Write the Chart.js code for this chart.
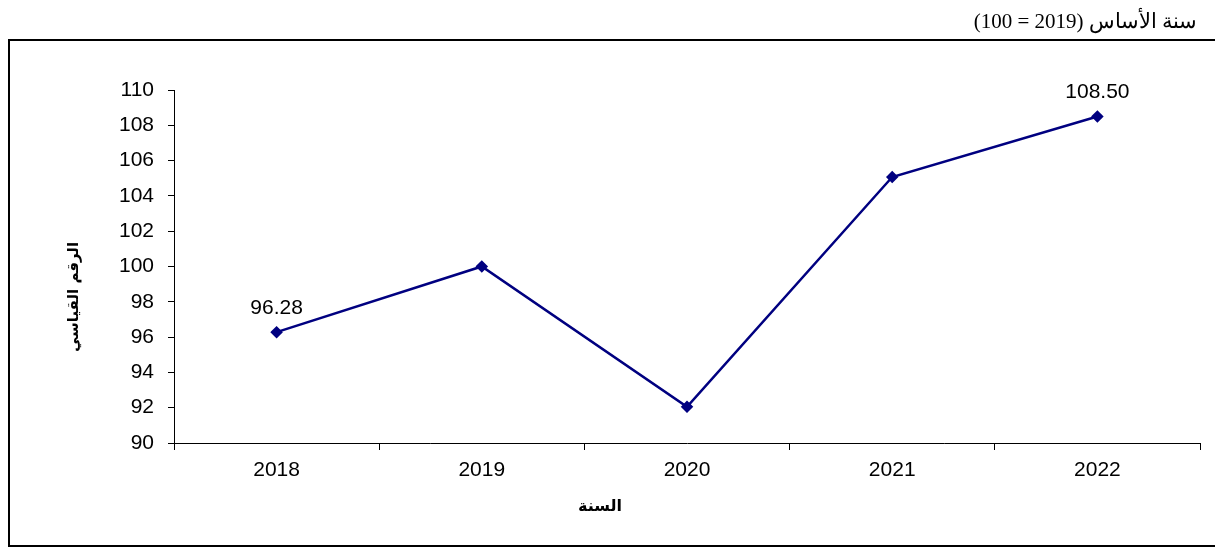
<!DOCTYPE html>
<html>
<head>
<meta charset="utf-8">
<script src="https://cdn.jsdelivr.net/npm/chart.js@4/dist/chart.umd.min.js"></script>
<style>
  html, body { margin: 0; padding: 0; background: #fff; }
  #wrap { width: 1215px; height: 547px; }
</style>
</head>
<body>
<div id="wrap"><canvas id="chart"></canvas></div>
<script>
// values
const years = ['2018', '2019', '2020', '2021', '2022'];
const indexValues = [96.28, 100, 92.05, 105.07, 108.50];
const labelledPoints = [0, 4];
const yTicks = { min: 90, max: 110, step: 2 };

const caption = 'سنة الأساس (2019 = 100)';
const xTitle = 'السنة';
const yTitle = 'الرقم القياسي';

const navy = '#000080';
const tickFont = { family: '"Liberation Sans", Arial, sans-serif', size: 21 };

// frame, caption, axis titles and the two value labels
const decor = {
  id: 'decor',
  beforeDraw(chart) {
    const ctx = chart.ctx;
    ctx.save();
    ctx.fillStyle = '#fff';
    ctx.fillRect(0, 0, chart.width, chart.height);
    ctx.restore();
  },
  afterDraw(chart) {
    const ctx = chart.ctx;
    ctx.save();
    ctx.strokeStyle = '#000';
    ctx.lineWidth = 2;
    ctx.strokeRect(9, 40, 1215, 506);

    ctx.fillStyle = '#000';
    ctx.direction = 'rtl';
    ctx.textAlign = 'right';
    ctx.textBaseline = 'middle';
    ctx.font = '21px "Liberation Serif", "DejaVu Serif", serif';
    ctx.fillText(caption, 1197, 22);

    ctx.textAlign = 'center';
    ctx.font = 'bold 16px "DejaVu Sans", sans-serif';
    ctx.fillText(xTitle, 600, 507);

    ctx.save();
    ctx.translate(74, 297);
    ctx.rotate(-Math.PI / 2);
    ctx.font = 'bold 15px "DejaVu Sans", sans-serif';
    ctx.fillText(yTitle, 0, 0);
    ctx.restore();

    ctx.direction = 'ltr';
    ctx.font = '21px "Liberation Sans", Arial, sans-serif';
    const pts = chart.getDatasetMeta(0).data;
    labelledPoints.forEach(i => {
      ctx.fillText(indexValues[i].toFixed(2), pts[i].x, pts[i].y - 24);
    });
    ctx.restore();
  }
};

new Chart(document.getElementById('chart'), {
  type: 'line',
  data: {
    labels: years,
    datasets: [{
      data: indexValues,
      borderColor: navy,
      backgroundColor: navy,
      borderWidth: 2.5,
      pointStyle: 'rectRot',
      pointRadius: 4.5,
      pointHoverRadius: 4.5,
      pointBackgroundColor: navy,
      pointBorderColor: navy,
      tension: 0
    }]
  },
  options: {
    responsive: true,
    maintainAspectRatio: false,
    animation: false,
    events: [],
    layout: { padding: { top: 90, right: 15, left: 0, bottom: 0 } },
    plugins: {
      legend: { display: false },
      tooltip: { enabled: false }
    },
    scales: {
      x: {
        offset: true,
        afterFit(scale) { scale.height = 104; },
        grid: { offset: true, drawOnChartArea: false, drawTicks: true, tickLength: 7, color: '#000' },
        border: { display: true, color: '#000', width: 1 },
        ticks: { font: tickFont, color: '#000', padding: 8, maxRotation: 0 }
      },
      y: {
        min: yTicks.min,
        max: yTicks.max,
        afterFit(scale) { scale.width = 174; },
        grid: { drawOnChartArea: false, drawTicks: true, tickLength: 6, color: '#000' },
        border: { display: true, color: '#000', width: 1 },
        ticks: { stepSize: yTicks.step, font: tickFont, color: '#000', padding: 14 }
      }
    }
  },
  plugins: [decor]
});
</script>
</body>
</html>
